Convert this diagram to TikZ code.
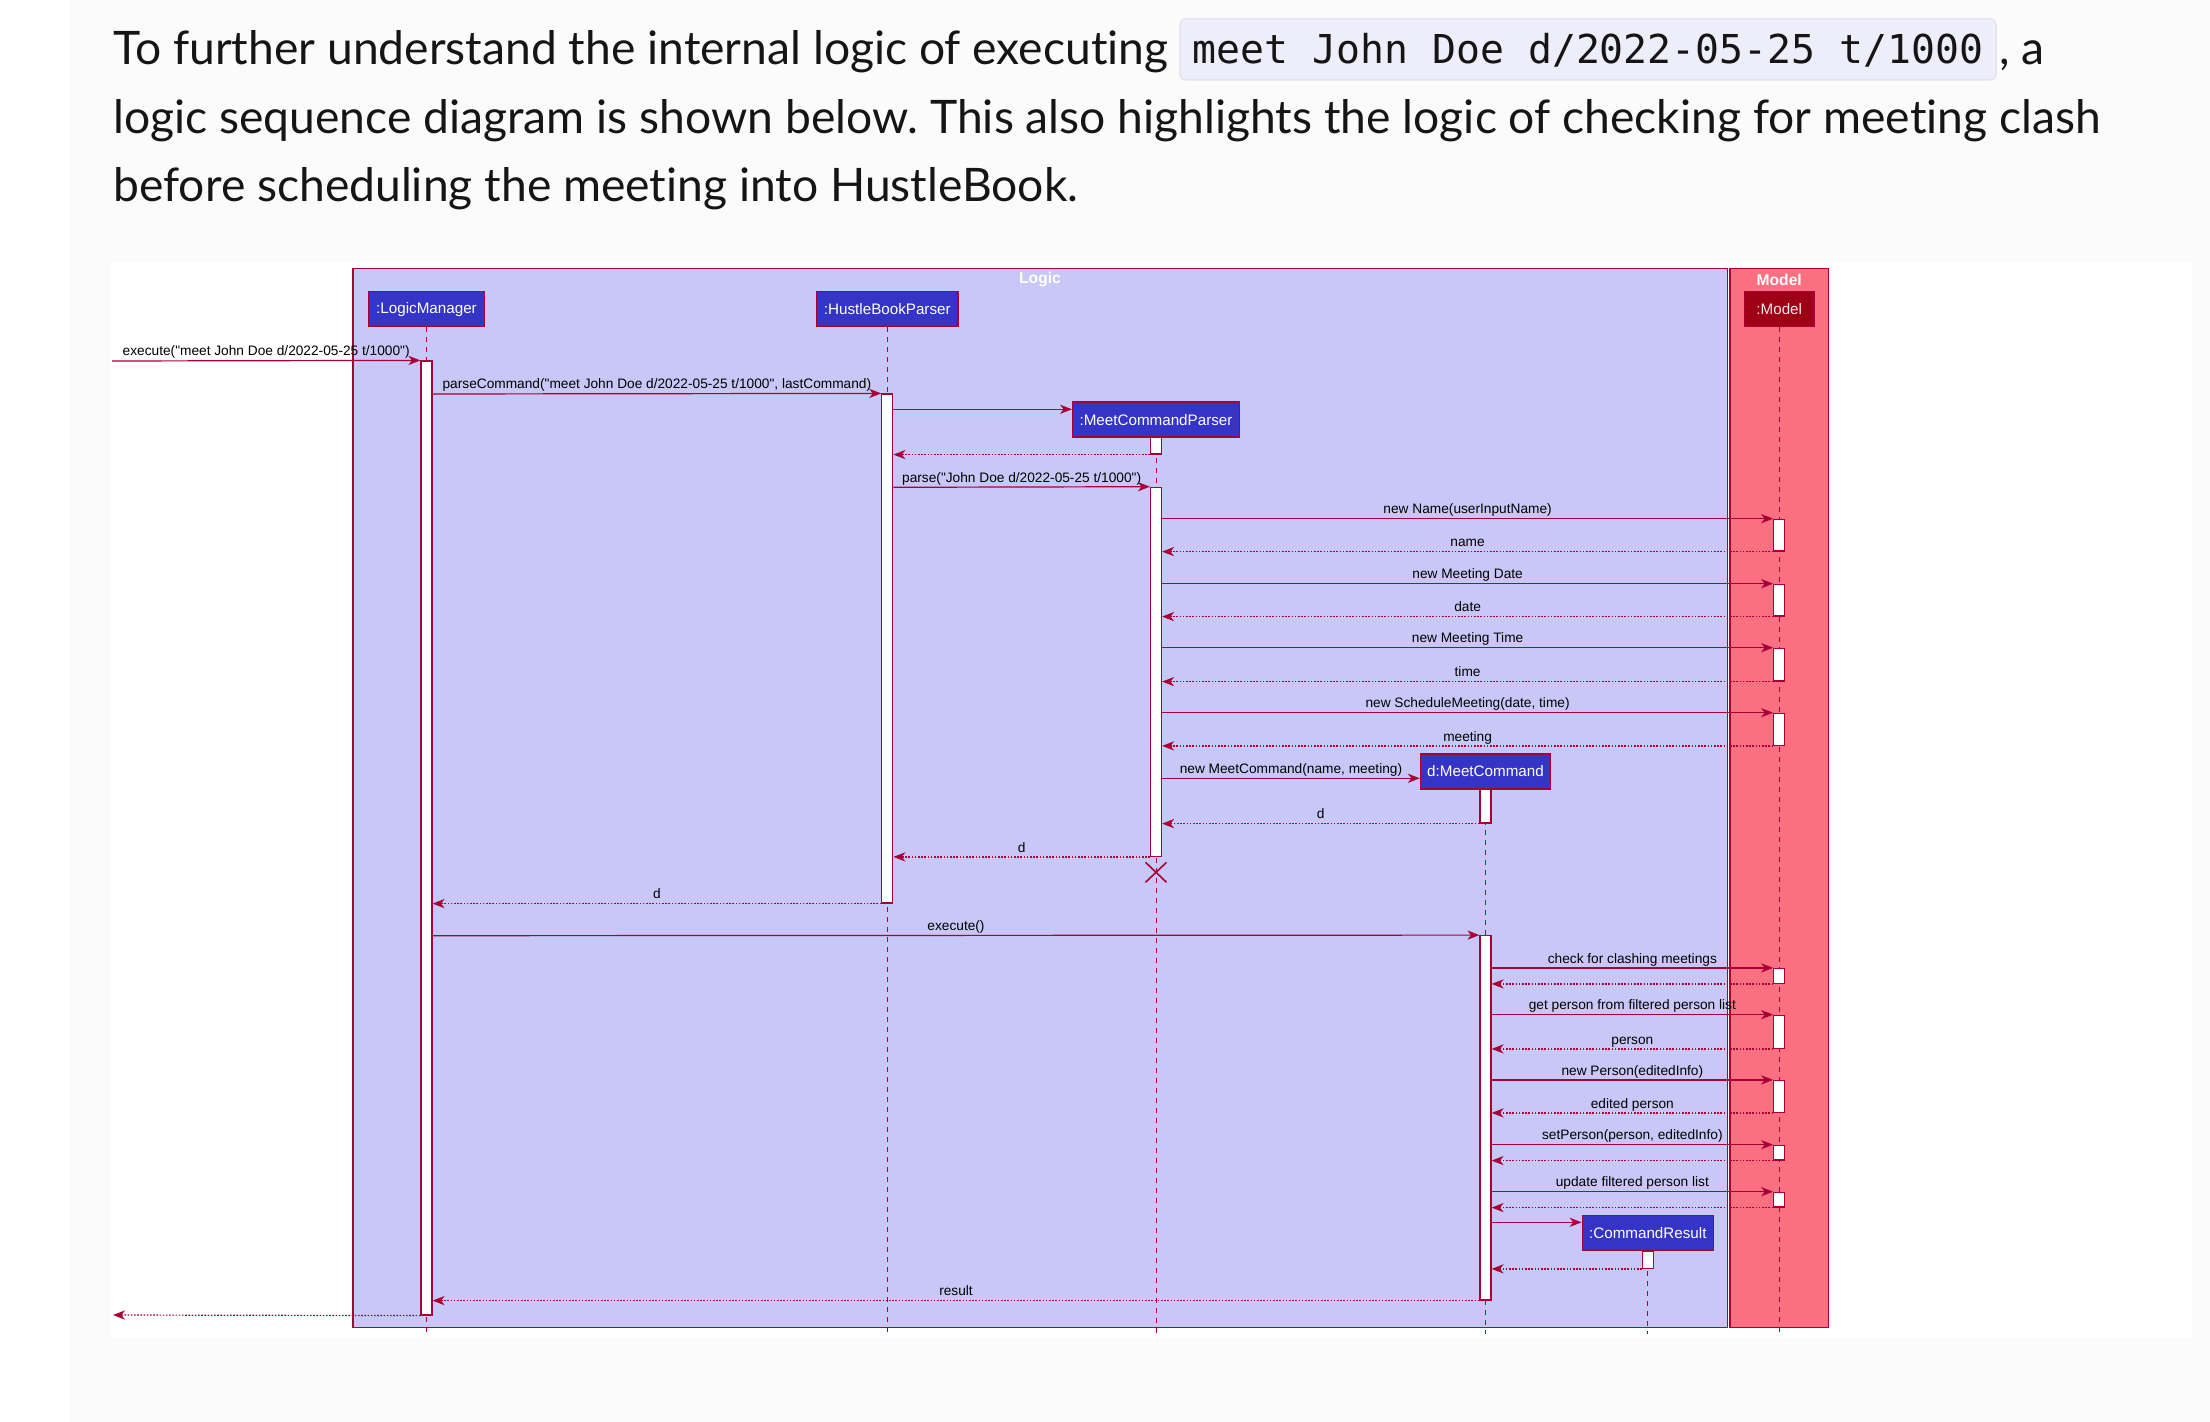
\documentclass[tikz,border=0pt]{standalone}
\usepackage{fontspec}
\setmainfont[Ligatures={TeX,CommonOff}]{Lato}
\newfontfamily\umlfont{Liberation Sans}
\newfontfamily\codefont{DejaVu Sans Mono}
\usepackage{xcolor}
\usetikzlibrary{
  arrows.meta,%
  fit,%
  positioning
}
\frenchspacing
\definecolor{umlred}{HTML}{A80036}
\definecolor{logicfill}{HTML}{C8C8F8}
\definecolor{modelfill}{HTML}{FB7080}
\definecolor{partblue}{HTML}{3434C6}
\definecolor{modelred}{HTML}{9E0016}
\definecolor{modeltext}{HTML}{FFE4E8}
\definecolor{pagegray}{HTML}{FBFBFB}
\definecolor{codefill}{HTML}{EEEEFB}
\definecolor{codeline}{HTML}{E4E4EC}
\definecolor{prosetext}{HTML}{151515}
\newcommand{\msgfont}{\umlfont\fontsize{6.85pt}{8pt}\selectfont}
\newcommand{\partfont}{\umlfont\fontsize{7.6pt}{9pt}\selectfont}
\tikzset{>={Stealth[length=6pt,width=4.6pt,inset=1.8pt]}}
\tikzset{
  partbox/.style={draw=umlred, fill=partblue, text=white, line width=0.7pt,
    minimum height=17.5pt, inner sep=0pt, font=\partfont},
  actbox/.style={draw=umlred, fill=white, line width=0.6pt,
    minimum width=5.5pt, inner sep=0pt},
  msgcall/.style={->, umlred, line width=0.6pt},
  msgreturn/.style={->, umlred, line width=0.6pt, dash pattern=on 0.8pt off 0.8pt},
  lifeline/.style={umlred, line width=0.5pt, dash pattern=on 2.5pt off 2.5pt},
  msg/.style={midway, anchor=base, yshift=2.4pt, inner sep=0pt, font=\msgfont, text=black},
  frametitle/.style={font=\umlfont\fontsize{7.8pt}{9pt}\selectfont\bfseries,
    text=white, inner sep=0pt},
  prose/.style={anchor=base west, inner sep=0pt,
    font=\fontsize{23.1pt}{28pt}\selectfont, text=prosetext},
  codebox/.style={draw=codeline, fill=codefill, line width=0.75pt, rounded corners=3pt,
    anchor=base, inner sep=0pt, minimum width=408pt, text height=22.15pt,
    text depth=8.35pt, font=\codefont\fontsize{19.9pt}{24pt}\selectfont, text=prosetext},
}

\begin{document}
\begin{tikzpicture}[x=0.5pt, y=-0.5pt]
  \useasboundingbox (0,0) rectangle (2210,1422);
  % page and panel
  \fill[white] (0,0) rectangle (2210,1422);
  \fill[pagegray] (69,0) rectangle (2210,1422);
  \fill[white] (111,262) rectangle (2192,1338);

  % paragraph above the diagram
  \node[prose] (txt1) at (113,65) {To further understand the internal logic of executing};
  \node[codebox] (code) at (1588,63.3) {meet John Doe d/2022-05-25 t/1000};
  \node[prose] (txt1b) at (1999,65) {, a};
  \node[prose] (txt2) at (113,133.3) {logic sequence diagram is shown below. This also highlights the logic of checking for meeting clash};
  \node[prose] (txt3) at (113,201.7) {before scheduling the meeting into HustleBook.};

  % boxes
  \draw[umlred, line width=0.7pt, fill=logicfill] (353,268.3) rectangle (1727.5,1327.7);
  \draw[umlred, line width=0.7pt, fill=modelfill] (1730,268.3) rectangle (1828.3,1327.7);
  \node[frametitle] (logicT) at (1040,280) {Logic};
  \node[frametitle] (modelT) at (1779.2,280) {Model};

  % participants
  \node[partbox, minimum width=58.25pt] (lm) at (426.5,309.2) {:LogicManager};
  \node[partbox, minimum width=70.7pt] (hbp) at (887.3,309.2) {:HustleBookParser};
  \node[partbox, minimum width=83.3pt] (mcp) at (1156,419.7) {:MeetCommandParser};
  \node[partbox, minimum width=65pt] (mc) at (1485.5,771.3) {d:MeetCommand};
  \node[partbox, minimum width=65.5pt] (cr) at (1647.8,1233) {:CommandResult};
  \node[partbox, fill=modelred, text=modeltext, minimum width=34.85pt] (model) at (1779.2,309.2) {:Model};

  \foreach \p in {lm,hbp,mcp,mc,cr,model}
    \draw[lifeline] (\p.south) -- (\p.south |- 0,1334);

  % activations
  \node[actbox, fit={(lm.south |- 0,361) (lm.south |- 0,1315)}] (lmA) {};
  \node[actbox, fit={(hbp.south |- 0,394) (hbp.south |- 0,903)}] (hbpA) {};
  \node[actbox, fit={(mcp.south) (mcp.south |- 0,454)}] (mcpA1) {};
  \node[actbox, fit={(mcp.south |- 0,487.3) (mcp.south |- 0,856.3)}] (mcpA2) {};
  \node[actbox, fit={(mc.south) (mc.south |- 0,823)}] (mcA1) {};
  \node[actbox, fit={(mc.south |- 0,935.7) (mc.south |- 0,1300)}] (mcA2) {};
  \node[actbox, fit={(cr.south) (cr.south |- 0,1268.3)}] (crA) {};

  \coordinate (caller) at (112,361);
  \coordinate (back) at (113,1315);

  \draw[msgcall] (caller) -- (lmA.north west)
    node[msg] {execute("meet John Doe d/2022-05-25 t/1000")};
  \draw[msgcall] (lmA.east |- 0,394) -- (hbpA.north west)
    node[msg] {parseCommand("meet John Doe d/2022-05-25 t/1000", lastCommand)};
  \draw[msgcall] (hbpA.east |- 0,409.3) -- (mcp.west |- 0,409.3);
  \draw[msgreturn] (mcpA1.south west) -- (hbpA.east |- mcpA1.south west);
  \draw[msgcall] (hbpA.east |- 0,487.3) -- (mcpA2.north west)
    node[msg] {parse("John Doe d/2022-05-25 t/1000")};

  \foreach \i/\ya/\yb/\lcall/\lret in {1/519.3/551/{new Name(userInputName)}/name,
      2/584.3/616/{new Meeting Date}/date,
      3/648.3/681/{new Meeting Time}/time,
      4/713.3/745.3/{new ScheduleMeeting(date, time)}/meeting} {
    \node[actbox, fit={(model.south |- 0,\ya) (model.south |- 0,\yb)}] (mA\i) {};
    \draw[msgcall] (mcpA2.east |- mA\i.north west) -- (mA\i.north west) node[msg] {\lcall};
    \draw[msgreturn] (mA\i.south west) -- (mcpA2.east |- mA\i.south west) node[msg] {\lret};
  }

  \draw[msgcall] (mcpA2.east |- 0,778.3) -- (mc.west |- 0,778.3)
    node[msg] {new MeetCommand(name, meeting)};
  \draw[msgreturn] (mcA1.south west) -- (mcpA2.east |- mcA1.south west) node[msg] {d};
  \draw[msgreturn] (mcpA2.south west) -- (hbpA.east |- mcpA2.south west) node[msg] {d};

  % end of the parser
  \coordinate (mcpX) at (mcp.south |- 0,872.3);
  \draw[umlred, line width=0.8pt] ([shift={(-10.5,-10)}]mcpX) -- ([shift={(10.5,10)}]mcpX)
    ([shift={(-10.5,10)}]mcpX) -- ([shift={(10.5,-10)}]mcpX);

  \draw[msgreturn] (hbpA.south west) -- (lmA.east |- hbpA.south west) node[msg] {d};
  \draw[msgcall] (lmA.east |- 0,935.7) -- (mcA2.north west) node[msg] {execute()};

  \foreach \i/\ya/\yb/\lcall/\lret in {5/968.5/983.3/{check for clashing meetings}/{},
      6/1015.3/1048.3/{get person from filtered person list}/person,
      7/1080.5/1112.3/{new Person(editedInfo)}/{edited person},
      8/1145.3/1160/{setPerson(person, editedInfo)}/{},
      9/1192.3/1207/{update filtered person list}/{}} {
    \node[actbox, fit={(model.south |- 0,\ya) (model.south |- 0,\yb)}] (mA\i) {};
    \draw[msgcall] (mcA2.east |- mA\i.north west) -- (mA\i.north west) node[msg] {\lcall};
    \draw[msgreturn] (mA\i.south west) -- (mcA2.east |- mA\i.south west) node[msg] {\lret};
  }

  \draw[msgcall] (mcA2.east |- 0,1222.3) -- (cr.west |- 0,1222.3);
  \draw[msgreturn] (crA.south west) -- (mcA2.east |- crA.south west);
  \draw[msgreturn] (mcA2.south west) -- (lmA.east |- mcA2.south west) node[msg] {result};
  \draw[msgreturn] (lmA.south west) -- (back);
\end{tikzpicture}
\end{document}
